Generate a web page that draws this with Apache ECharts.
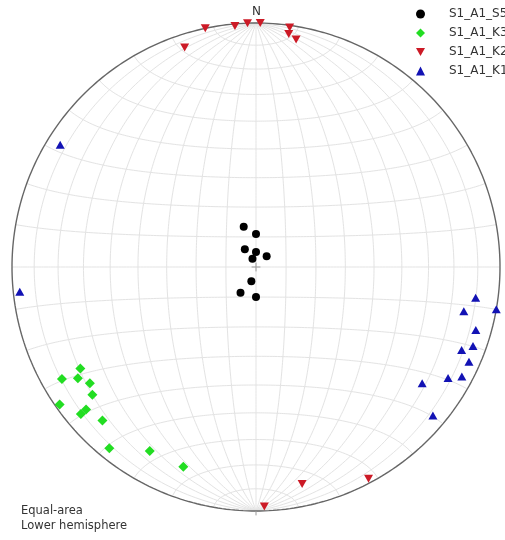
<!DOCTYPE html>
<html>
<head>
<meta charset="utf-8">
<script src="https://cdn.jsdelivr.net/npm/echarts@6/dist/echarts.min.js"></script>
<style>
  html, body { margin: 0; padding: 0; background: #ffffff; }
  #chart { width: 505px; height: 540px; }
</style>
</head>
<body>
<div id="chart"></div>
<script>
// Line orientations as trend / plunge (degrees), plotted on the lower hemisphere.
const seriesNames = ['S1_A1_S5', 'S1_A1_K3', 'S1_A1_K2', 'S1_A1_K1'];

const s5Trend  = [343, 0, 328, 0, 45, 337, 198, 211, 180];
const s5Plunge = [76, 79, 83, 85, 85, 87, 85, 80, 80];

const k3Trend  = [240, 240, 238, 235, 232, 235, 230, 230, 225, 219, 210, 200];
const k3Plunge = [18, 9, 15, 18, 16, 2, 7, 10, 12, 5, 14, 14];

const k2Trend  = [342, 348, 355, 358, 1, 8, 8, 10, 178, 168, 152];
const k2Plunge = [6, 0, 1, 0, 0, 1, 4, 6, 2, 10, 2];

const k1Trend  = [302, 264, 98, 100, 102, 106, 112, 110, 114, 118, 120, 125, 130];
const k1Plunge = [6, 3, 10, 0, 14, 7, 10, 6, 5, 5, 10, 18, 6];

// Net grid spacing (degrees)
const gridStep = 10;

const D2R = Math.PI / 180;

// Lambert equal-area projection of a line (trend/plunge), unit primitive circle
function projectLine(trend, plunge) {
  const r = Math.SQRT2 * Math.sin((90 - plunge) / 2 * D2R);
  return [r * Math.sin(trend * D2R), r * Math.cos(trend * D2R)];
}

// Net coordinates: poles of the net at top/bottom, lon measured E-W
function projectNet(lon, lat) {
  const cl = Math.cos(lat * D2R);
  const k = 1 / Math.sqrt(1 + cl * Math.cos(lon * D2R));
  return [k * cl * Math.sin(lon * D2R), k * Math.sin(lat * D2R)];
}

function points(trends, plunges) {
  return trends.map((t, i) => projectLine(t, plunges[i]));
}

const gridStyle = { color: '#e3e3e3', width: 1 };
const series = [];

function addLine(data, style, z) {
  series.push({
    type: 'line', data, showSymbol: false, symbol: 'none', silent: true,
    clip: false, lineStyle: style, z, animation: false
  });
}

// Great circles through the net poles
for (let lon = -90 + gridStep; lon < 90; lon += gridStep) {
  const d = [];
  for (let lat = -90; lat <= 90; lat += 1) d.push(projectNet(lon, lat));
  addLine(d, gridStyle, 1);
}
// Small circles about the N-S axis
for (let lat = -90 + gridStep; lat < 90; lat += gridStep) {
  const d = [];
  for (let lon = -90; lon <= 90; lon += 1) d.push(projectNet(lon, lat));
  addLine(d, gridStyle, 1);
}
// Primitive circle
{
  const d = [];
  for (let a = 0; a <= 360; a += 1) d.push([Math.sin(a * D2R), Math.cos(a * D2R)]);
  addLine(d, { color: '#666666', width: 1.4 }, 2);
}
// Cardinal ticks outside the primitive and centre cross
const tickStyle = { color: '#9a9a9a', width: 1 };
addLine([[1, 0], [1.018, 0]], tickStyle, 2);
addLine([[-1, 0], [-1.018, 0]], tickStyle, 2);
addLine([[0, -1], [0, -1.018]], tickStyle, 2);
addLine([[-0.018, 0], [0.018, 0]], tickStyle, 2);
addLine([[0, -0.018], [0, 0.018]], tickStyle, 2);

const downTriangle = 'path://M0,0L10,0L5,9Z';

const markerDefs = [
  { data: points(s5Trend, s5Plunge), symbol: 'circle', size: 8, rotate: 0, color: '#000000', icon: 'circle' },
  { data: points(k3Trend, k3Plunge), symbol: 'diamond', size: 10, rotate: 0, color: '#22dd22', icon: 'diamond' },
  { data: points(k2Trend, k2Plunge), symbol: 'triangle', size: [9, 8], rotate: 180, color: '#cc1a26', icon: downTriangle },
  { data: points(k1Trend, k1Plunge), symbol: 'triangle', size: [9, 8], rotate: 0, color: '#1212b4', icon: 'triangle' }
];
markerDefs.forEach((m, i) => {
  series.push({
    name: seriesNames[i], type: 'scatter', data: m.data, symbol: m.symbol,
    symbolSize: m.size, symbolRotate: m.rotate, z: 5, animation: false,
    itemStyle: { color: m.color, opacity: 1 }
  });
});

const chart = echarts.init(document.getElementById('chart'), null, { renderer: 'canvas' });
chart.setOption({
  backgroundColor: '#ffffff',
  animation: false,
  grid: { left: 12, top: 23, width: 488, height: 488 },
  xAxis: { type: 'value', min: -1, max: 1, show: false },
  yAxis: { type: 'value', min: -1, max: 1, show: false },
  legend: {
    data: seriesNames.map((n, i) => ({ name: n, icon: markerDefs[i].icon })),
    orient: 'vertical', left: 411, top: 3,
    itemWidth: 9, itemHeight: 9, itemGap: 7,
    itemStyle: { opacity: 1 },
    textStyle: { fontFamily: 'DejaVu Sans', fontSize: 12, color: '#333333', lineHeight: 12,
                 padding: [0, 0, 0, 19] },
    selectedMode: false
  },
  graphic: [
    { type: 'text', left: 252, top: 6,
      style: { text: 'N', font: '12px "DejaVu Sans"', fill: '#333333' } },
    { type: 'text', left: 21, top: 504,
      style: { text: 'Equal-area\nLower hemisphere', font: '11.5px "DejaVu Sans"', lineHeight: 14.5, fill: '#333333' } }
  ],
  series
});
</script>
</body>
</html>
